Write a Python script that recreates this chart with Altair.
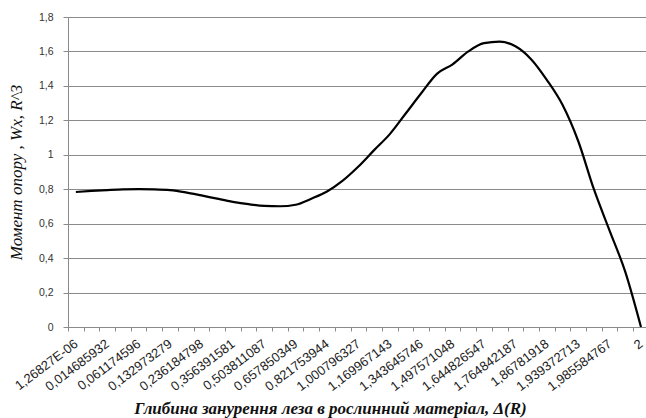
import altair as alt
import pandas as pd

# Category labels shown under every second point (comma decimal separator)
depth_labels = [
    "1,26827E-06", "0,014685932", "0,061174596", "0,132973279", "0,236184798",
    "0,356391581", "0,503811087", "0,657850349", "0,821753944", "1,000796327",
    "1,169967143", "1,343645746", "1,497571048", "1,644826547", "1,764842187",
    "1,86781918", "1,939372713", "1,985584767", "2",
]

# Section modulus Wx (in R^3) for each of the 37 depth steps
moment = [
    0.784, 0.790, 0.795, 0.799, 0.800, 0.799, 0.795, 0.782, 0.764, 0.745,
    0.727, 0.713, 0.703, 0.701, 0.710, 0.745, 0.787, 0.850, 0.932, 1.027,
    1.120, 1.238, 1.357, 1.470, 1.525, 1.600, 1.648, 1.657, 1.630, 1.555,
    1.435, 1.290, 1.080, 0.800, 0.560, 0.320, 0.000,
]

y_ticks = [0, 0.2, 0.4, 0.6, 0.8, 1.0, 1.2, 1.4, 1.6, 1.8]

df = pd.DataFrame({"idx": list(range(len(moment))), "moment": moment})

x_scale = alt.Scale(domain=[-0.5, 36.32], nice=False, zero=False)
y_scale = alt.Scale(domain=[0, 1.8], nice=False)

label_expr = "[" + ",".join(f"'{s}'" for s in depth_labels) + "][datum.value / 2]"

GRID = "#8a8a8a"

y_axis = alt.Axis(
    values=y_ticks,
    labelExpr="replace(format(datum.value, '.1~f'), '.', ',')",
    labelFont="Liberation Sans",
    labelFontSize=10.5,
    labelColor="#333333",
    labelPadding=10,
    labelOverlap=False,
    tickSize=5,
    tickColor=GRID,
    domainColor=GRID,
    grid=True,
    gridColor=GRID,
    gridWidth=1,
    title="Момент опору , Wx, R^3",
    titleFont="Liberation Serif",
    titleFontSize=17,
    titleFontStyle="italic",
    titleFontWeight="normal",
    titleColor="#111111",
    titleX=-52,
    titleY=155,
    titleAlign="center",
    titleBaseline="middle",
    titleAngle=-90,
)

# Curve with the category labels, the value axis and both axis titles
line = alt.Chart(df).mark_line(
    color="black", strokeWidth=2.2, interpolate="monotone"
).encode(
    x=alt.X(
        "idx:Q",
        scale=x_scale,
        axis=alt.Axis(
            orient="bottom",
            values=list(range(0, 37, 2)),
            labelExpr=label_expr,
            labelAngle=-37,
            labelAlign="right",
            labelBaseline="middle",
            labelFont="Liberation Sans",
            labelFontSize=13,
            labelColor="#222222",
            labelPadding=15,
            labelOffset=0,
            labelOverlap=False,
            ticks=False,
            domain=False,
            grid=False,
            title="Глибина занурення леза в рослинний матеріал, Δ(R)",
            titleFont="Liberation Serif",
            titleFontSize=17,
            titleFontStyle="italic",
            titleFontWeight="bold",
            titleColor="#111111",
            titleX=262,
            titleY=86,
            titleAlign="center",
            titleBaseline="alphabetic",
        ),
    ),
    y=alt.Y("moment:Q", scale=y_scale, axis=y_axis),
)

# Invisible layer that carries the category-boundary tick marks
ticks = alt.Chart(df).mark_point(opacity=0).encode(
    x=alt.X(
        "idx:Q",
        scale=x_scale,
        axis=alt.Axis(
            orient="bottom",
            values=[k - 0.5 for k in range(37)],
            labels=False,
            title=None,
            grid=False,
            tickSize=4,
            tickColor=GRID,
            domainColor=GRID,
        ),
    ),
    y=alt.Y("moment:Q", scale=y_scale, axis=y_axis),
)

chart = (
    alt.layer(line, ticks)
    .resolve_axis(x="independent")
    .properties(
        width=578,
        height=310,
        autosize=alt.AutoSizeParams(type="none"),
        padding={"left": 68, "top": 17, "right": 0, "bottom": 91},
        background="white",
    )
    .configure_view(stroke=None)
)

chart.save("out.html", embed_options={"renderer": "svg", "actions": False})
